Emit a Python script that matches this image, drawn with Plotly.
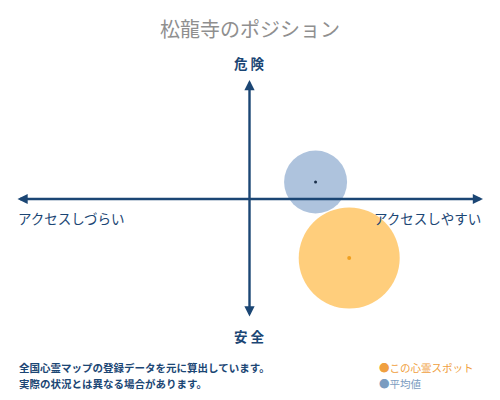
import plotly.graph_objects as go

# Data (normalised position: x = access ease, y = danger)
names = ["平均値", "この心霊スポット"]
x_vals = [0.283, 0.427]
y_vals = [0.143, -0.496]
sizes = [63, 101]
fill_colors = ["rgba(120,155,198,0.6)", "rgba(255,190,80,0.75)"]
dot_colors = ["#1a2f4a", "#f0a020"]
dot_sizes = [3, 4]

title_text = "松龍寺のポジション"
axis_labels = {"top": "危 険", "bottom": "安 全", "left": "アクセスしづらい", "right": "アクセスしやすい"}
notes = ["全国心霊マップの登録データを元に算出しています。", "実際の状況とは異なる場合があります。"]
legend_labels = ["●この心霊スポット", "●平均値"]
legend_colors = ["#f0a040", "#7a9cc0"]

FONT = "Noto Sans CJK JP"
NAVY = "#1b4674"
OFF = 8  # page body margin in pixels
W, H = 500, 400


def px(xp):
    return (xp - OFF) / W


def py(yp):
    return 1 - (yp - OFF) / H


fig = go.Figure()
for i in range(len(names)):
    fig.add_trace(go.Scatter(
        x=[x_vals[i]], y=[y_vals[i]], mode="markers", name=names[i],
        marker=dict(size=sizes[i], color=fill_colors[i], line=dict(width=0)),
        hoverinfo="name", showlegend=False))
for i in range(len(names)):
    fig.add_trace(go.Scatter(
        x=[x_vals[i]], y=[y_vals[i]], mode="markers", name=names[i] + " center",
        marker=dict(size=dot_sizes[i], color=dot_colors[i]),
        hoverinfo="skip", showlegend=False))

ann = []
for (tx, ty, sx, sy) in [(1, 0, -1, 0), (0, 1, 0, -1)]:
    ann.append(dict(x=tx, y=ty, ax=sx, ay=sy, xref="x", yref="y", axref="x", ayref="y",
                    showarrow=True, arrowhead=2, startarrowhead=2, arrowside="end+start",
                    arrowsize=0.85, startarrowsize=0.85, arrowwidth=2.4,
                    arrowcolor=NAVY, text=""))

lab_font = dict(family=FONT, size=13.5, color=NAVY)
ann.append(dict(x=0, y=1.0, xref="x", yref="y", text="<b>" + axis_labels["top"] + "</b>",
                showarrow=False, yanchor="bottom", yshift=5, font=lab_font))
ann.append(dict(x=0, y=-1.0, xref="x", yref="y", text="<b>" + axis_labels["bottom"] + "</b>",
                showarrow=False, yanchor="top", yshift=-6, font=lab_font))
ann.append(dict(x=-1, y=0, xref="x", yref="y", text=axis_labels["left"],
                showarrow=False, xanchor="left", yanchor="top", xshift=0, yshift=-7, font=lab_font))
ann.append(dict(x=1, y=0, xref="x", yref="y", text=axis_labels["right"],
                showarrow=False, xanchor="right", yanchor="top", xshift=0, yshift=-7, font=lab_font))

note_font = dict(family=FONT, size=10.5, color=NAVY)
for i, t in enumerate(notes):
    ann.append(dict(x=px(17), y=py(367 + 16 * i), xref="paper", yref="paper",
                    text="<b>" + t + "</b>", showarrow=False, xanchor="left", yanchor="middle",
                    font=note_font))
for i, t in enumerate(legend_labels):
    ann.append(dict(x=px(377), y=py(367 + 16 * i), xref="paper", yref="paper",
                    text=t, showarrow=False, xanchor="left", yanchor="middle",
                    font=dict(family=FONT, size=10.5, color=legend_colors[i])))

# axis scale: x=-1..1 -> page px 16..483, y=1..-1 -> page px 80..318
xu = (483 - 16) / 2
yu = (318 - 80) / 2
x0 = 16 - OFF
y0 = 80 - OFF
xmin = -1 - x0 / xu
xmax = 1 + (W - (483 - OFF)) / xu
ymax = 1 + y0 / yu
ymin = -1 - (H - (318 - OFF)) / yu

fig.update_layout(
    width=W, height=H, margin=dict(l=0, r=0, t=0, b=0),
    paper_bgcolor="white", plot_bgcolor="white",
    title=dict(text=title_text, x=px(250), xanchor="center", y=py(30), yanchor="middle",
               font=dict(family=FONT, size=20, color="#8f8f8f")),
    xaxis=dict(range=[xmin, xmax], visible=False, fixedrange=True),
    yaxis=dict(range=[ymin, ymax], visible=False, fixedrange=True),
    annotations=ann, showlegend=False,
)

fig.write_html("out.html")
